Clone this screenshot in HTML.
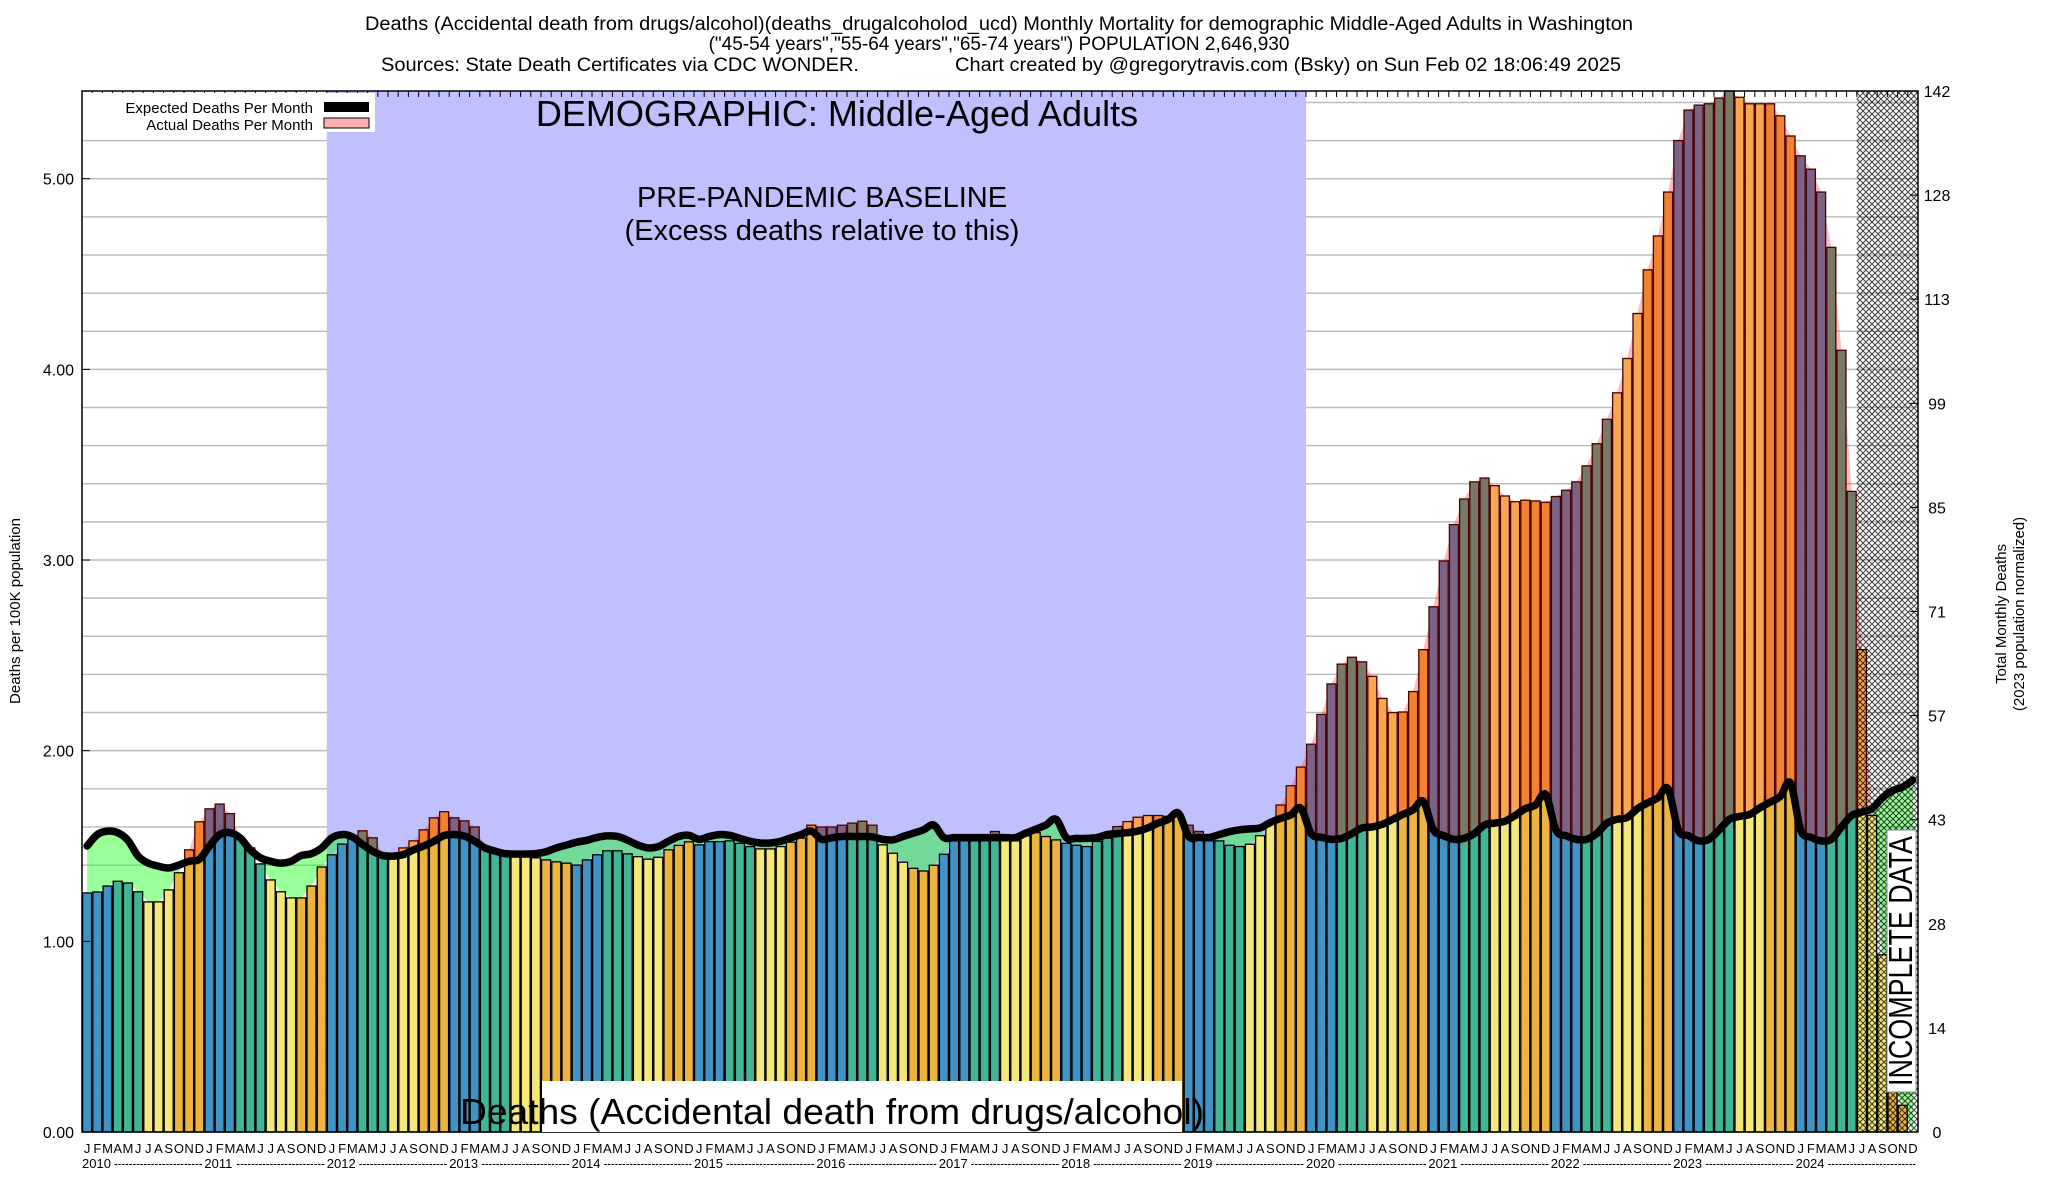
<!DOCTYPE html>
<html><head><meta charset="utf-8">
<style>
html,body{margin:0;padding:0;background:#fff;}
svg{display:block;font-family:"Liberation Sans",Arial,sans-serif;}
</style></head>
<body>
<svg id="chart" width="2048" height="1200" viewBox="0 0 2048 1200" xmlns="http://www.w3.org/2000/svg">
<defs>
<pattern id="hatch" width="6" height="6" patternUnits="userSpaceOnUse">
<path d="M0,0 L6,6 M6,0 L0,6" stroke="#000" stroke-width="1" opacity="0.75"/>
</pattern>
</defs>
<g font-size="19" fill="#000">
<text x="999" y="30" text-anchor="middle" textLength="1268" lengthAdjust="spacingAndGlyphs">Deaths (Accidental death from drugs/alcohol)(deaths_drugalcoholod_ucd) Monthly Mortality for demographic Middle-Aged Adults in Washington</text>
<text x="999" y="50" text-anchor="middle">("45-54 years","55-64 years","65-74 years") POPULATION 2,646,930</text>
<text x="381" y="71" textLength="478" lengthAdjust="spacingAndGlyphs">Sources: State Death Certificates via CDC WONDER.</text>
<text x="955" y="71" textLength="666" lengthAdjust="spacingAndGlyphs">Chart created by @gregorytravis.com (Bsky) on Sun Feb 02 18:06:49 2025</text>
</g>
<g id="grid"></g>
<g id="band"></g>
<g id="fills"></g>
<g id="bars"></g>
<g id="hatchg"></g>
<g id="line"></g>
<g id="axes"></g>
<g>
<text x="837" y="126" text-anchor="middle" font-size="36">DEMOGRAPHIC: Middle-Aged Adults</text>
<text x="822" y="207" text-anchor="middle" font-size="29">PRE-PANDEMIC BASELINE</text>
<text x="822" y="240" text-anchor="middle" font-size="29">(Excess deaths relative to this)</text>
<rect x="542" y="1081" width="640" height="51" fill="#fff"/>
<text x="460" y="1124" font-size="36" textLength="744" lengthAdjust="spacingAndGlyphs">Deaths (Accidental death from drugs/alcohol)</text>
<rect x="1887" y="830" width="29" height="262" fill="#fff" stroke="#888" stroke-width="1"/>
<text transform="translate(1912,961) rotate(-90)" text-anchor="middle" font-size="33" textLength="250" lengthAdjust="spacingAndGlyphs">INCOMPLETE DATA</text>
</g>
<g>
<rect x="83" y="93" width="292" height="39" fill="#fff"/>
<text x="313" y="113" text-anchor="end" font-size="15">Expected Deaths Per Month</text>
<rect x="324" y="102" width="45" height="10" fill="#000"/>
<text x="313" y="130" text-anchor="end" font-size="15">Actual Deaths Per Month</text>
<rect x="324" y="118" width="45" height="10" fill="#ffb0b0" stroke="#000" stroke-width="1"/>
</g>
<text transform="translate(20,611) rotate(-90)" text-anchor="middle" font-size="15">Deaths per 100K population</text>
<text transform="translate(2006,614) rotate(-90)" text-anchor="middle" font-size="15">Total Monthly Deaths</text>
<text transform="translate(2024,614) rotate(-90)" text-anchor="middle" font-size="15">(2023 population normalized)</text>
</svg>
<script>
const actual = [
1.254,1.259,1.29,1.315,1.306,1.26,1.207,1.207,1.27,1.36,1.48,1.627,
1.695,1.72,1.67,1.543,1.49,1.406,1.322,1.26,1.228,1.228,1.29,1.39,
1.454,1.51,1.543,1.58,1.543,1.464,1.438,1.49,1.527,1.585,1.648,1.68,
1.648,1.632,1.6,1.5,1.475,1.448,1.443,1.443,1.438,1.427,1.417,1.41,
1.40,1.427,1.454,1.475,1.475,1.459,1.444,1.431,1.441,1.48,1.503,1.522,
1.506,1.523,1.523,1.527,1.514,1.497,1.485,1.485,1.497,1.52,1.541,1.609,
1.6,1.6,1.609,1.62,1.63,1.609,1.506,1.462,1.415,1.383,1.369,1.399,
1.457,1.527,1.527,1.527,1.527,1.576,1.527,1.527,1.553,1.57,1.55,1.532,
1.514,1.504,1.497,1.524,1.541,1.602,1.628,1.651,1.66,1.66,1.656,1.654,
1.609,1.576,1.527,1.527,1.504,1.497,1.509,1.554,1.62,1.715,1.816,1.914,
2.034,2.19,2.35,2.454,2.49,2.466,2.39,2.274,2.2,2.203,2.31,2.53,
2.755,2.995,3.186,3.32,3.41,3.43,3.39,3.336,3.306,3.314,3.31,3.303,
3.333,3.366,3.41,3.494,3.61,3.738,3.877,4.057,4.293,4.522,4.70,4.93,
5.20,5.36,5.386,5.393,5.423,5.46,5.427,5.393,5.393,5.393,5.33,5.224,
5.12,5.05,4.93,4.64,4.10,3.36,2.53,1.66,0.93,0.26,0.14,0.0
];
const expected = [
1.50,1.56,1.578,1.57,1.53,1.447,1.41,1.394,1.385,1.40,1.42,1.43,
1.50,1.56,1.57,1.543,1.48,1.438,1.42,1.41,1.42,1.45,1.46,1.49,
1.543,1.56,1.548,1.508,1.473,1.45,1.447,1.455,1.48,1.5,1.525,1.555,
1.56,1.552,1.525,1.49,1.473,1.46,1.458,1.458,1.46,1.47,1.49,1.505,
1.52,1.53,1.545,1.553,1.55,1.53,1.505,1.49,1.497,1.525,1.55,1.556,
1.535,1.55,1.56,1.556,1.54,1.525,1.516,1.516,1.525,1.543,1.56,1.578,
1.535,1.543,1.55,1.55,1.55,1.548,1.535,1.532,1.55,1.567,1.585,1.61,
1.544,1.544,1.544,1.544,1.544,1.544,1.544,1.544,1.567,1.588,1.61,1.64,
1.544,1.54,1.54,1.544,1.56,1.565,1.57,1.578,1.595,1.62,1.64,1.672,
1.55,1.545,1.545,1.56,1.575,1.585,1.59,1.595,1.623,1.645,1.663,1.698,
1.565,1.546,1.535,1.54,1.565,1.595,1.60,1.614,1.64,1.666,1.69,1.734,
1.584,1.554,1.535,1.54,1.565,1.61,1.62,1.63,1.66,1.696,1.715,1.77,
1.584,1.554,1.535,1.535,1.565,1.62,1.64,1.65,1.696,1.726,1.753,1.80,
1.584,1.554,1.527,1.535,1.584,1.64,1.655,1.666,1.70,1.73,1.76,1.83,
1.584,1.546,1.527,1.535,1.60,1.66,1.678,1.696,1.753,1.79,1.81,1.846
];
const years = [2010,2011,2012,2013,2014,2015,2016,2017,2018,2019,2020,2021,2022,2023,2024];
const monthLetters = ["J","F","M","A","M","J","J","A","S","O","N","D"];
const leftTicks = ["0.00","1.00","2.00","3.00","4.00","5.00"];
const rightTicks = ["0","14","28","43","57","71","85","99","113","128","142"];
const baselineStart = 24, baselineEnd = 120, incompleteStart = 174;

const NS = "http://www.w3.org/2000/svg";
const L = 82, R = 1918, T = 91, B = 1132, YMAX = 5.46;
const N = actual.length;
const bw = (R - L) / N;
function xs(i){ return L + i * bw; }
function xc(i){ return L + (i + 0.5) * bw; }
function ys(v){ return B - v / YMAX * (B - T); }
function mk(tag, attrs, parent){
  const e = document.createElementNS(NS, tag);
  for (const k in attrs) e.setAttribute(k, attrs[k]);
  parent.appendChild(e); return e;
}
const base = ["#4193c6","#41b596","#f4e87a","#ecb43e"];
const exc = ["#7a6386","#787a66","#f7a652","#f2822f"];

// grid
const grid = document.getElementById("grid");
for (let v = 0.2; v < YMAX; v += 0.2) {
  const g = mk("line", {x1:L, x2:R, y1:ys(v), y2:ys(v), stroke:"#bdbdbd", "stroke-width":1.5}, grid);
  
  
}
// band
const band = document.getElementById("band");
const br = mk("rect", {x:xs(baselineStart), y:T, width:xs(baselineEnd)-xs(baselineStart), height:B-T, fill:"#c0c0ff"}, band);



// fills
const fills = document.getElementById("fills");
for (let i = 0; i < N - 1; i++) {
  const a0 = actual[i], a1 = actual[i+1], e0 = expected[i], e1 = expected[i+1];
  const d = (e0 - a0) + (e1 - a1);
  const p = mk("polygon", {points:`${xc(i)},${ys(a0)} ${xc(i+1)},${ys(a1)} ${xc(i+1)},${ys(e1)} ${xc(i)},${ys(e0)}`,
    fill: d > 0 ? "rgba(0,255,0,0.4)" : "rgba(255,60,60,0.35)"}, fills);
  
  
}
// bars
const bars = document.getElementById("bars");
for (let i = 0; i < N; i++) {
  const q = Math.floor((i % 12) / 3);
  const a = actual[i], e = expected[i];
  const lo = Math.min(a, e);
  if (a <= 0) continue;
  const r1 = mk("rect", {x:xs(i)+0.6, y:ys(lo), width:bw-1.2, height:B-ys(lo), fill:base[q], stroke:"#000", "stroke-width":1.3}, bars);
  
  
  if (a > e) {
    const r2 = mk("rect", {x:xs(i)+0.6, y:ys(a), width:bw-1.2, height:ys(e)-ys(a), fill:exc[q], stroke:"#4a0000", "stroke-width":1.3}, bars);
    
    
  }
}
// hatch
const hg = document.getElementById("hatchg");
const hr = mk("rect", {x:xs(incompleteStart), y:T, width:R-xs(incompleteStart), height:B-T, fill:"url(#hatch)"}, hg);



// expected line (smooth)
let d = `M${xc(0)},${ys(expected[0])}`;
for (let i = 0; i < N - 1; i++) {
  const p0 = i > 0 ? i - 1 : i, p3 = i + 2 < N ? i + 2 : i + 1;
  const x1 = xc(i), y1 = ys(expected[i]), x2 = xc(i+1), y2 = ys(expected[i+1]);
  const c1x = x1 + (x2 - xc(p0)) / 6, c1y = y1 + (y2 - ys(expected[p0])) / 6;
  const c2x = x2 - (xc(p3) - x1) / 6, c2y = y2 - (ys(expected[p3]) - y1) / 6;
  d += ` C${c1x},${c1y} ${c2x},${c2y} ${x2},${y2}`;
}
const ln = mk("path", {d:d, fill:"none", stroke:"#000", "stroke-width":7.5, "stroke-linejoin":"round", "stroke-linecap":"round"}, document.getElementById("line"));



// axes
const ax = document.getElementById("axes");
const fr = mk("rect", {x:L, y:T, width:R-L, height:B-T, fill:"none", stroke:"#000", "stroke-width":1.5}, ax);


leftTicks.forEach((t) => {
  const v = parseFloat(t);
  const tx = mk("text", {x:74, y:ys(v)+6, "text-anchor":"end", "font-size":16}, ax);
  tx.textContent = t;
  
  
  const tk = mk("line", {x1:L, x2:L+8, y1:ys(v), y2:ys(v), stroke:"#000", "stroke-width":1}, ax);
  
  
});
rightTicks.forEach((t, k) => {
  const y = B - k / (rightTicks.length - 1) * (B - T);
  const tx = mk("text", {x:1937, y:y+6, "text-anchor":"middle", "font-size":16}, ax);
  tx.textContent = t;
  
  
  const tk = mk("line", {x1:R-8, x2:R, y1:y, y2:y, stroke:"#000", "stroke-width":1}, ax);
  
  
});
for (let i = 0; i < N; i++) {
  const tk = mk("line", {x1:xs(i), x2:xs(i), y1:T, y2:T+6, stroke:"#000", "stroke-width":1}, ax);
  
  
  const m = mk("text", {x:xc(i), y:1153, "text-anchor":"middle", "font-size":13}, ax);
  m.textContent = monthLetters[i % 12];
  
  
}
years.forEach((yr, k) => {
  const x0 = xs(k * 12);
  const t = mk("text", {x:x0, y:1168, "font-size":13}, ax);
  t.textContent = String(yr);
  
  
  const dx = mk("text", {x:x0 + 32, y:1168, "font-size":13, textLength:12*bw - 34, lengthAdjust:"spacingAndGlyphs"}, ax);
  dx.textContent = "------------------------";
  
  
});
</script>
</body></html>
